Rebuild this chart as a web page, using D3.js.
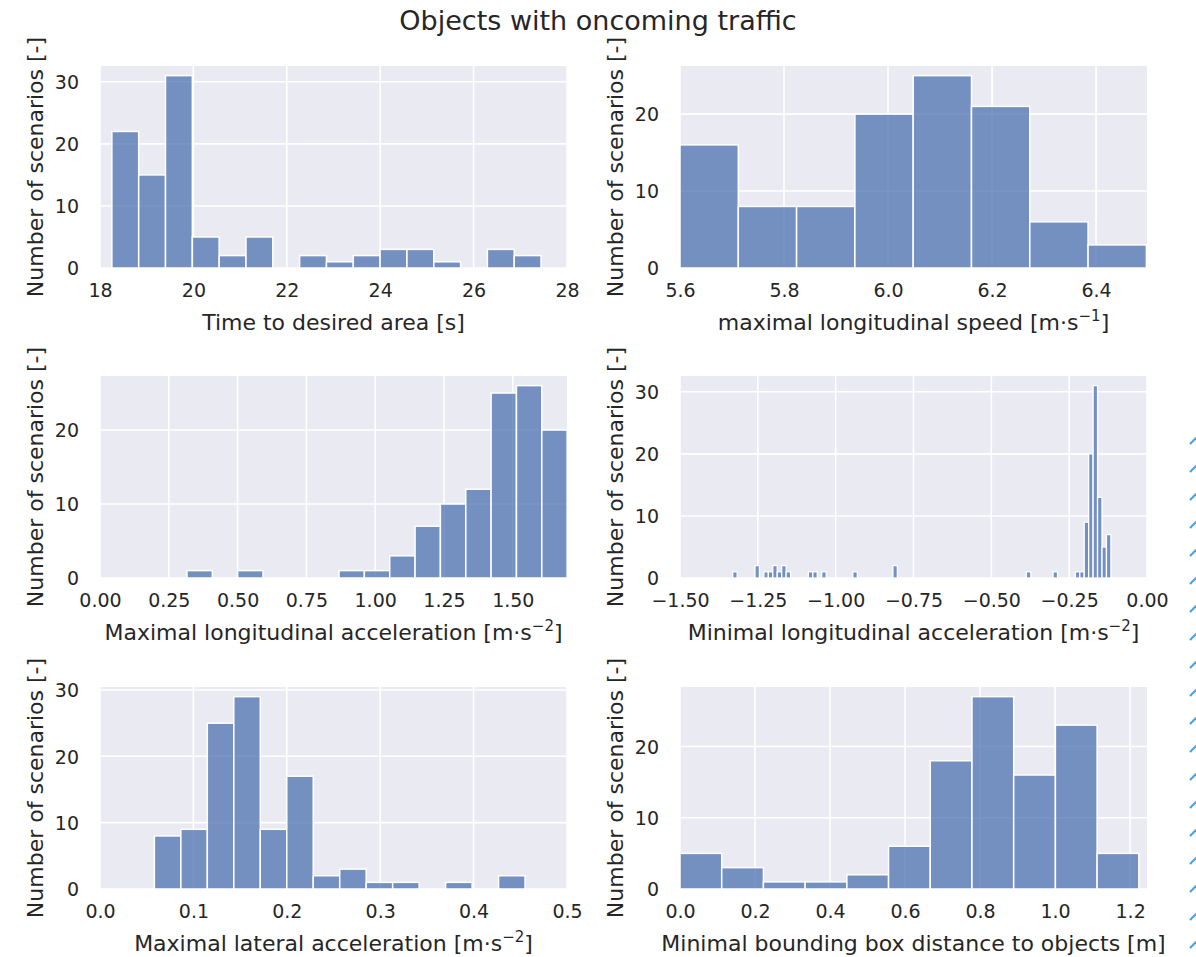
<!DOCTYPE html>
<html>
<head>
<meta charset="utf-8">
<script src="https://cdn.jsdelivr.net/npm/d3@7"></script>
<style>
  body { margin: 0; background: #fff; }
  svg text { font-family: 'DejaVu Sans', sans-serif; fill: #262626; }
</style>
</head>
<body>
<svg width="1196" height="957"></svg>
<script>
// histogram values: first bin edge, bin width, counts
const timeStart = 18.254, timeWidth = 0.5744;
const timeCounts = [22, 15, 31, 5, 2, 5, 0, 2, 1, 2, 3, 3, 1, 0, 3, 2];
const timeTicks = [18, 20, 22, 24, 26, 28];

const speedStart = 5.6, speedWidth = 0.1121;
const speedCounts = [16, 8, 8, 20, 25, 21, 6, 3];
const speedTicks = [5.6, 5.8, 6.0, 6.2, 6.4];

const maxAccStart = 0.316, maxAccWidth = 0.0921;
const maxAccCounts = [1, 0, 1, 0, 0, 0, 1, 1, 3, 7, 10, 12, 25, 26, 20];
const maxAccTicks = [0, 0.25, 0.5, 0.75, 1.0, 1.25, 1.5];

// many narrow bins here, only the non-empty ones are listed
const minAccStart = -1.3306, minAccWidth = 0.01429;
const minAccBins = [0, 5, 7, 8, 9, 10, 11, 12, 17, 18, 20, 27, 36, 66, 72, 77, 78, 79, 80, 81, 82, 83, 84];
const minAccCounts = [1, 2, 1, 1, 2, 1, 2, 1, 1, 1, 1, 1, 2, 1, 1, 1, 1, 9, 20, 31, 13, 5, 7];
const minAccTicks = [-1.5, -1.25, -1.0, -0.75, -0.5, -0.25, 0];

const latStart = 0.0582, latWidth = 0.02835;
const latCounts = [8, 9, 25, 29, 9, 17, 2, 3, 1, 1, 0, 1, 0, 2];
const latTicks = [0, 0.1, 0.2, 0.3, 0.4, 0.5];

const distStart = 0, distWidth = 0.1112;
const distCounts = [5, 3, 1, 1, 2, 6, 18, 27, 16, 23, 5];
const distTicks = [0, 0.2, 0.4, 0.6, 0.8, 1.0, 1.2];

const svg = d3.select('svg');

// layout
const colLeft = [100, 680];
const rowTop = [66, 376, 687];
const plotW = 467, plotH = 202;

const barFill = '#4C72B0';

// title
svg.append('text')
  .attr('x', 598).attr('y', 30)
  .attr('text-anchor', 'middle')
  .attr('font-size', 27)
  .text('Objects with oncoming traffic');

// turns dense counts into bins
const denseBins = (start, width, counts) =>
  counts.map((c, i) => ({ x0: start + i * width, x1: start + (i + 1) * width, c }));

const sparseBins = (start, width, idx, counts) =>
  idx.map((b, i) => ({ x0: start + b * width, x1: start + (b + 1) * width, c: counts[i] }));

const drawPanel = p => {
  const left = colLeft[p.col], top = rowTop[p.row];
  const g = svg.append('g').attr('transform', `translate(${left}, ${top})`);

  const xScale = d3.scaleLinear().domain(p.xDomain).range([0, plotW]);
  const yScale = d3.scaleLinear().domain(p.yDomain).range([plotH, 0]);

  g.append('rect')
    .attr('width', plotW).attr('height', plotH)
    .attr('fill', '#EAEAF2');

  // grid
  g.selectAll('.vgrid').data(p.xTicks).enter().append('line')
    .attr('x1', d => xScale(d)).attr('x2', d => xScale(d))
    .attr('y1', 0).attr('y2', plotH)
    .attr('stroke', '#fff').attr('stroke-width', 1.6);
  g.selectAll('.hgrid').data(p.yTicks).enter().append('line')
    .attr('x1', 0).attr('x2', plotW)
    .attr('y1', d => yScale(d)).attr('y2', d => yScale(d))
    .attr('stroke', '#fff').attr('stroke-width', 1.6);

  // bars
  g.selectAll('.bar').data(p.bins.filter(d => d.c > 0)).enter().append('rect')
    .attr('x', d => xScale(d.x0))
    .attr('y', d => yScale(d.c))
    .attr('width', d => xScale(d.x1) - xScale(d.x0))
    .attr('height', d => yScale(0) - yScale(d.c))
    .attr('fill', barFill).attr('fill-opacity', 0.75)
    .attr('stroke', '#fff').attr('stroke-width', p.edge);

  // axes, no tick lines and no spine (darkgrid look)
  const xAxis = g.append('g')
    .attr('transform', `translate(0, ${plotH})`)
    .call(d3.axisBottom(xScale).tickValues(p.xTicks).tickFormat(d3.format(p.xFmt)).tickSize(0));
  xAxis.select('.domain').remove();
  xAxis.selectAll('text')
    .attr('font-size', 19).attr('font-family', null).attr('fill', '#262626')
    .attr('y', 29).attr('dy', null);

  const yAxis = g.append('g')
    .call(d3.axisLeft(yScale).tickValues(p.yTicks).tickFormat(d3.format('d')).tickSize(0));
  yAxis.select('.domain').remove();
  yAxis.selectAll('text')
    .attr('font-size', 19).attr('font-family', null).attr('fill', '#262626')
    .attr('x', -21).attr('dy', '0.36em');

  // x label, with optional superscript
  const xl = g.append('text')
    .attr('x', plotW / 2).attr('y', plotH + 62)
    .attr('text-anchor', 'middle')
    .attr('font-size', 22);
  xl.append('tspan').text(p.xLabel);
  if (p.sup) {
    xl.append('tspan').attr('font-size', 15).attr('dy', -9).text(p.sup);
    xl.append('tspan').attr('dy', 9).text(']');
  }

  g.append('text')
    .attr('transform', `translate(-57, ${plotH / 2}) rotate(-90)`)
    .attr('text-anchor', 'middle')
    .attr('font-size', 22)
    .text('Number of scenarios [-]');
};

drawPanel({
  col: 0, row: 0, xDomain: [18, 28], yDomain: [0, 32.55],
  xTicks: timeTicks, yTicks: [0, 10, 20, 30], xFmt: 'd', edge: 1.5,
  bins: denseBins(timeStart, timeWidth, timeCounts),
  xLabel: 'Time to desired area [s]'
});
drawPanel({
  col: 1, row: 0, xDomain: [5.6, 6.498], yDomain: [0, 26.25],
  xTicks: speedTicks, yTicks: [0, 10, 20], xFmt: '.1f', edge: 1.5,
  bins: denseBins(speedStart, speedWidth, speedCounts),
  xLabel: 'maximal longitudinal speed [m·s', sup: '\u22121'
});
drawPanel({
  col: 0, row: 1, xDomain: [0, 1.697], yDomain: [0, 27.3],
  xTicks: maxAccTicks, yTicks: [0, 10, 20], xFmt: '.2f', edge: 1.5,
  bins: denseBins(maxAccStart, maxAccWidth, maxAccCounts),
  xLabel: 'Maximal longitudinal acceleration [m·s', sup: '\u22122'
});
drawPanel({
  col: 1, row: 1, xDomain: [-1.5, 0], yDomain: [0, 32.55],
  xTicks: minAccTicks, yTicks: [0, 10, 20, 30], xFmt: '.2f', edge: 1.3,
  bins: sparseBins(minAccStart, minAccWidth, minAccBins, minAccCounts),
  xLabel: 'Minimal longitudinal acceleration [m·s', sup: '\u22122'
});
drawPanel({
  col: 0, row: 2, xDomain: [0, 0.5], yDomain: [0, 30.45],
  xTicks: latTicks, yTicks: [0, 10, 20, 30], xFmt: '.1f', edge: 1.5,
  bins: denseBins(latStart, latWidth, latCounts),
  xLabel: 'Maximal lateral acceleration [m·s', sup: '\u22122'
});
drawPanel({
  col: 1, row: 2, xDomain: [0, 1.245], yDomain: [0, 28.35],
  xTicks: distTicks, yTicks: [0, 10, 20], xFmt: '.1f', edge: 1.5,
  bins: denseBins(distStart, distWidth, distCounts),
  xLabel: 'Minimal bounding box distance to objects [m]'
});

// small blue strokes cut off at the right edge of the reference
svg.selectAll('.dash').data(d3.range(440, 957, 28)).enter().append('line')
  .attr('x1', 1190).attr('y1', d => d + 4)
  .attr('x2', 1197).attr('y2', d => d - 3)
  .attr('stroke', '#4aa3e6').attr('stroke-width', 2.2);
</script>
</body>
</html>
